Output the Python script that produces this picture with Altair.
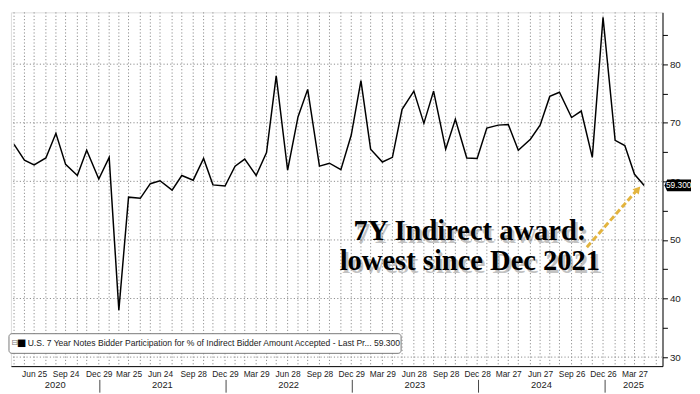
import altair as alt
import pandas as pd

# ---- data ----
dates = [
    "2020-04-28", "2020-05-28", "2020-06-25", "2020-07-29", "2020-08-27", "2020-09-24",
    "2020-10-28", "2020-11-24", "2020-12-29",
    "2021-01-28", "2021-02-25", "2021-03-25", "2021-04-28", "2021-05-27", "2021-06-24",
    "2021-07-29", "2021-08-26", "2021-09-28", "2021-10-28", "2021-11-24", "2021-12-29",
    "2022-01-27", "2022-02-24", "2022-03-29", "2022-04-28", "2022-05-26", "2022-06-28",
    "2022-07-28", "2022-08-25", "2022-09-28", "2022-10-27", "2022-11-29", "2022-12-29",
    "2023-01-26", "2023-02-23", "2023-03-29", "2023-04-27", "2023-05-25", "2023-06-28",
    "2023-07-27", "2023-08-24", "2023-09-28", "2023-10-26", "2023-11-28", "2023-12-28",
    "2024-01-25", "2024-02-27", "2024-03-27", "2024-04-25", "2024-05-30", "2024-06-27",
    "2024-07-25", "2024-08-22", "2024-09-26", "2024-10-24", "2024-11-25", "2024-12-26",
    "2025-01-30", "2025-02-27", "2025-03-27", "2025-04-24",
]
values = [
    66.3, 63.6, 62.8, 64.0, 68.2, 62.9, 61.0, 65.3, 60.4,
    64.1, 38.0, 57.3, 57.1, 59.6, 60.1, 58.5, 61.0, 60.2, 63.9, 59.4, 59.2,
    62.6, 63.8, 61.0, 64.9, 78.0, 61.9, 71.0, 75.7, 62.6, 63.1, 62.0, 67.9,
    77.2, 65.5, 63.3, 64.1, 72.3, 75.4, 69.9, 75.4, 65.5, 70.6, 64.0, 63.9,
    69.1, 69.6, 69.7, 65.3, 67.2, 69.6, 74.5, 75.2, 70.9, 72.0, 64.1, 88.0,
    67.0, 66.1, 61.2, 59.3,
]
extra_grid_dates = ["2025-05-29"]
label_dates = [d for d in dates if int(d[5:7]) in (3, 6, 9, 12)]
years = ["2020", "2021", "2022", "2023", "2024", "2025"]
year_mid = ["2020-08-25", "2021-07-01", "2022-07-01", "2023-07-01", "2024-07-01", "2025-03-24"]
year_breaks = ["2021-01-01", "2022-01-01", "2023-01-01", "2024-01-01", "2025-01-01"]
y_grid = [30, 40, 50, 60, 70, 80]
y_ticks = [30, 35, 40, 45, 50, 55, 60, 65, 70, 75, 80, 85]
legend_text = ("U.S. 7 Year Notes Bidder Participation for % of Indirect Bidder "
               "Amount Accepted - Last Pr... 59.300")
annotation = "7Y Indirect award:\nlowest since Dec 2021"
last_label = "59.300"

# ---- layout ----
W, H = 663, 360
SANS = "Liberation Sans"
GRID_COLOR = "#8c8c8c"
GRID_DASH = [1.2, 2.2]


def dt(s):
    y, m, d = (int(p) for p in s.split("-"))
    return alt.DateTime(year=y, month=m, date=d)


df = pd.DataFrame({"date": pd.to_datetime(dates), "value": values})
xscale = alt.Scale(domain=[dt("2020-04-19"), dt("2025-06-16")])
yscale = alt.Scale(domain=[28.46, 88.85], nice=False, zero=False)

x_axis = alt.Axis(
    values=[dt(s) for s in label_dates], format="%b %d",
    labelOverlap=False, labelFlush=False, ticks=False, labelPadding=4,
    labelFont=SANS, labelFontSize=8.5, labelColor="#222",
    domainColor="#000", domainWidth=1, grid=False, title=None,
)
y_axis = alt.Axis(
    orient="right", values=y_ticks,
    labelExpr="datum.value % 10 == 0 ? datum.value : ''",
    labelOverlap=False,
    grid=False, tickSize=5, tickColor="#000", domainColor="#000",
    labelFont=SANS, labelFontSize=10, labelColor="#222", labelPadding=2,
    title=None,
)


def X(field):
    return alt.X(field, scale=xscale, axis=x_axis, title=None)


def Y(field):
    return alt.Y(field, scale=yscale, axis=y_axis, title=None)


vgrid = alt.Chart(pd.DataFrame({"date": pd.to_datetime(dates + extra_grid_dates)})).mark_rule(
    strokeDash=GRID_DASH, color=GRID_COLOR, strokeWidth=1
).encode(x=X("date:T"))

hgrid = alt.Chart(pd.DataFrame({"value": y_grid})).mark_rule(
    strokeDash=GRID_DASH, color=GRID_COLOR, strokeWidth=1
).encode(y=Y("value:Q"))

line = alt.Chart(df).mark_line(color="#000", strokeWidth=1.5).encode(
    x=X("date:T"), y=Y("value:Q"),
)

one = pd.DataFrame({"t": [legend_text]})
legend_box = alt.Chart(one).mark_rect(
    fill="#fff", stroke="#777", strokeWidth=1, cornerRadius=3
).encode(x=alt.value(-2), x2=alt.value(397), y=alt.value(H - 33), y2=alt.value(H - 13))
legend_icon = alt.Chart(one).mark_text(
    text="\u229f", font="DejaVu Sans", fontSize=8, color="#777", align="center", baseline="middle"
).encode(x=alt.value(4), y=alt.value(H - 23))
legend_sq = alt.Chart(one).mark_text(
    text="\u25a0", font="DejaVu Sans", fontSize=10, color="#000", align="center", baseline="middle"
).encode(x=alt.value(11), y=alt.value(H - 23))
legend_label = alt.Chart(one).mark_text(
    font=SANS, fontSize=8.7, color="#222", align="left", baseline="middle"
).encode(x=alt.value(17), y=alt.value(H - 23), text="t:N")

ann = pd.DataFrame({"t": [annotation]})
ann_shadow = alt.Chart(ann).mark_text(
    font="Liberation Serif", fontSize=29, fontWeight="bold", color="#7a7a7a", opacity=0.45,
    align="center", baseline="alphabetic", lineBreak="\n", lineHeight=30, dx=2.5, dy=3,
).encode(x=alt.value(467), y=alt.value(232), text="t:N")
ann_text = alt.Chart(ann).mark_text(
    font="Liberation Serif", fontSize=29, fontWeight="bold", color="#000",
    align="center", baseline="alphabetic", lineBreak="\n", lineHeight=30,
).encode(x=alt.value(467), y=alt.value(232), text="t:N")

arrow = alt.Chart(one).mark_rule(
    color="#E3B43E", strokeWidth=3, strokeDash=[6, 3]
).encode(x=alt.value(586), y=alt.value(239), x2=alt.value(636), y2=alt.value(182))
arrow_head = alt.Chart(one).mark_point(
    shape="triangle-up", filled=True, color="#E3B43E", size=70, angle=41, opacity=1
).encode(x=alt.value(638), y=alt.value(180))

yl = pd.DataFrame({"year": years, "date": pd.to_datetime(year_mid)})
year_text = alt.Chart(yl).mark_text(
    font=SANS, fontSize=9.5, color="#222", align="center", baseline="middle"
).encode(x=X("date:T"), y=alt.value(H + 19), text="year:N")
yb = pd.DataFrame({"date": pd.to_datetime(year_breaks)})
year_sep = alt.Chart(yb).mark_rule(color="#444", strokeWidth=1).encode(
    x=X("date:T"), y=alt.value(H + 14), y2=alt.value(H + 27)
)

last = df.tail(1).assign(lab=last_label)
tag = alt.Chart(last).mark_point(
    shape="M -1 0 L -0.8 -0.44 L 1 -0.44 L 1 0.44 L -0.8 0.44 Z",
    filled=True, color="#000", size=27 * 27, opacity=1,
).encode(x=alt.value(W + 15.5), y=Y("value:Q"))
tag_text = alt.Chart(last).mark_text(
    font=SANS, fontSize=8.5, color="#fff", align="center", baseline="middle"
).encode(x=alt.value(W + 16.5), y=Y("value:Q"), text="lab:N")

chart = alt.layer(
    vgrid, hgrid, line, legend_box, legend_icon, legend_sq, legend_label,
    ann_shadow, ann_text, arrow, arrow_head, year_text, year_sep, tag, tag_text,
).properties(
    width=W, height=H, padding={"left": 0, "top": 0, "right": 0, "bottom": 0}
).configure_view(stroke=None).configure(background="#ffffff")

chart.save("out.html", embed_options={"renderer": "svg", "actions": False})
